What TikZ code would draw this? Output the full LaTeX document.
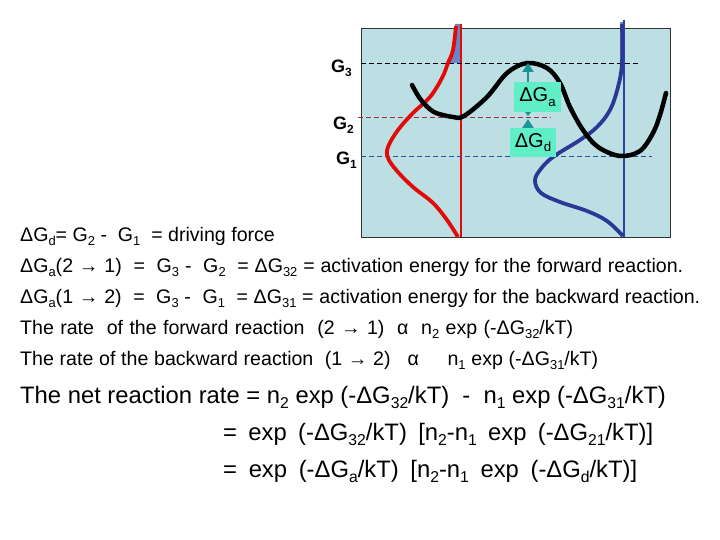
\documentclass[tikz,border=0pt]{standalone}
\usepackage{fontspec}
\setmainfont{Liberation Sans}
\usetikzlibrary{arrows.meta}
\newcommand\lo[1]{\raisebox{-0.42ex}{\scalebox{0.66}{#1}}}
\newcommand\fillto[2]{\makebox[#1][s]{#2}}
\definecolor{panelfill}{RGB}{187,223,227}
\definecolor{redc}{RGB}{228,10,10}
\definecolor{bluec}{RGB}{44,56,150}
\definecolor{bluev}{RGB}{40,70,160}
\definecolor{hatchc}{RGB}{105,135,200}
\definecolor{tealc}{RGB}{25,150,148}
\definecolor{aqua}{RGB}{95,238,198}
\definecolor{g2c}{RGB}{170,40,60}
\definecolor{g1c}{RGB}{45,75,160}
\tikzset{
  panelbox/.style={draw=black!80, line width=0.8pt, fill=panelfill, inner sep=0pt},
  glab/.style={font=\bfseries\fontsize{18}{18}\selectfont, anchor=base west, inner sep=0pt},
  txt/.style={font=\fontsize{19.6}{19.6}\selectfont, anchor=base west, inner sep=0pt},
  bigtxt/.style={font=\fontsize{23.8}{23.8}\selectfont, anchor=base west, inner sep=0pt},
  labbox/.style={fill=aqua, inner sep=0pt, font=\fontsize{20}{20}\selectfont},
  tealarrow/.style={draw=tealc, line width=2.4pt, -{Triangle[length=9pt,width=11pt]}},
  curveb/.style={line width=4.5pt, black, line cap=round},
  curver/.style={line width=3.8pt, redc},
  curveu/.style={line width=3.8pt, bluec},
}
\begin{document}
\begin{tikzpicture}[x=1pt,y=-1pt]
\useasboundingbox (0,0) rectangle (720,540);
% panel
\node[panelbox, minimum width=309pt, minimum height=209pt, anchor=north west] (panel) at (361,28) {};
% hatched tails
\fill[hatchc] (461,24) -- (455,24) -- (454,40) -- (451,55) -- (448,63) -- (461,63) -- cycle;
\fill[hatchc] (624,22) -- (620,22) -- (620,63) -- (624,63) -- cycle;
% vertical lines
\coordinate (rvt) at (461,24); \coordinate (rvb) at (461,237);
\coordinate (bvt) at (624,20); \coordinate (bvb) at (624,237);
\draw[redc, line width=1.1pt] (rvt) -- (rvb);
\draw[bluev, line width=1.1pt] (bvt) -- (bvb);
% dashed levels
\coordinate (g3a) at (361,63); \coordinate (g3b) at (638,63);
\coordinate (g2a) at (358,117); \coordinate (g2b) at (551,117);
\coordinate (g1a) at (361,156); \coordinate (g1b) at (652,156);
\draw[black, line width=0.8pt, dash pattern=on 5pt off 3pt] (g3a) -- (g3b);
\draw[g2c, line width=0.8pt, dash pattern=on 5pt off 3pt] (g2a) -- (g2b);
\draw[g1c, line width=0.8pt, dash pattern=on 5pt off 3pt] (g1a) -- (g1b);
% red curve
\draw[curver] plot[smooth, tension=0.6] coordinates {(456,26) (453,50) (448,63) (442,78) (430,97) (413,113) (398,130) (388,147) (388,158) (397,171) (413,187) (433,203) (447,220) (458,237)};
% blue curve
\draw[curveu] plot[smooth, tension=0.6] coordinates {(622,24) (622,63) (618,87) (610,110) (597,127) (580,140) (553,157) (540,170) (535,181) (541,193) (560,202) (587,211) (607,221) (623,236)};
% black curve
\draw[curveb] plot[smooth, tension=0.55] coordinates {(412,85) (421,100) (434,112) (453,117) (464,116) (487,97) (507,73) (527,63) (547,68) (560,83) (570,107) (583,130) (598,147) (620,156) (640,151) (653,133) (660,115) (666,93)};
% arrows
\coordinate (aTop) at (528,63); \coordinate (aMid) at (528,116);
\coordinate (dMid) at (528,119); \coordinate (dBot) at (528,156);
\draw[tealarrow, {Triangle[length=6pt,width=9pt]}-{Triangle[length=9pt,width=11pt]}] (aMid) -- (aTop);
\draw[tealarrow] (dBot) -- (dMid);
% label boxes
\node[labbox, minimum width=47pt, minimum height=30pt] (dga) at (537.5,97) {ΔG\lo{a}};
\node[labbox, minimum width=46pt, minimum height=29pt] (dgd) at (533,142.5) {ΔG\lo{d}};
% level labels
\node[glab] (lg3) at (331,73) {G\lo{3}};
\node[glab] (lg2) at (333,130) {G\lo{2}};
\node[glab] (lg1) at (336,165) {G\lo{1}};
% text lines
\node[txt] (t1) at (20,241) {ΔG\lo{d}= G\lo{2}\ - \ G\lo{1}\ \ = driving force};
\node[txt] (t2) at (20,272) {\fillto{663pt}{ΔG\lo{a}(2 → 1)\ \ =\ \ G\lo{3}\ - \ G\lo{2}\ \ = ΔG\lo{32} = activation energy for the forward reaction.}};
\node[txt] (t3) at (20,303) {\fillto{680pt}{ΔG\lo{a}(1 → 2)\ \ =\ \ G\lo{3}\ - \ G\lo{1}\ \ = ΔG\lo{31} = activation energy for the backward reaction.}};
\node[txt] (t4) at (20,334) {\fillto{553pt}{The rate\ \ of the forward reaction\ \ (2 → 1)\ \ α\ \ n\lo{2} exp (-ΔG\lo{32}/kT)}};
\node[txt] (t5) at (20,365) {\fillto{578pt}{The rate of the backward reaction\ \ (1 → 2)\ \ \ α\ \ \ \ \ n\lo{1} exp (-ΔG\lo{31}/kT)}};
\node[bigtxt] (b1) at (20,403) {The net reaction rate = n\lo{2} exp (-ΔG\lo{32}/kT)\ \ - \ n\lo{1} exp (-ΔG\lo{31}/kT)};
\node[bigtxt] (b2) at (223,440) {\fillto{430pt}{= exp (-ΔG\lo{32}/kT) [n\lo{2}-n\lo{1} exp (-ΔG\lo{21}/kT)]}};
\node[bigtxt] (b3) at (223,477) {\fillto{414pt}{= exp (-ΔG\lo{a}/kT) [n\lo{2}-n\lo{1} exp (-ΔG\lo{d}/kT)]}};
\end{tikzpicture}
\end{document}
